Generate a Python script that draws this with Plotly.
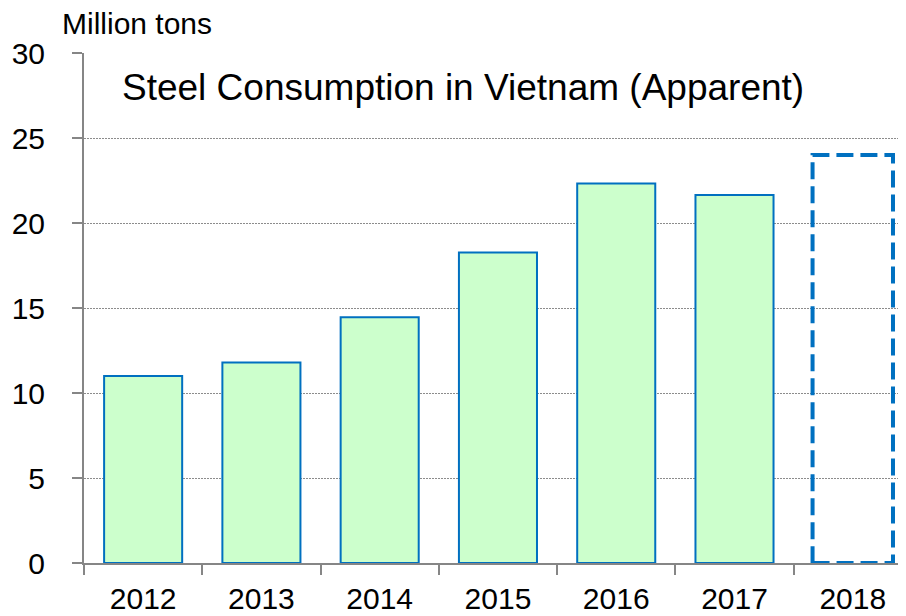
import plotly.graph_objects as go

years = ["2012", "2013", "2014", "2015", "2016", "2017", "2018"]
actual = [11.0, 11.8, 14.45, 18.27, 22.33, 21.65, None]
forecast_year = "2018"
forecast_value = 24.0
y_ticks = [0, 5, 10, 15, 20, 25, 30]

FONT = "Liberation Sans, Arial, sans-serif"
BLUE = "#0070C0"

# page body has an 8px margin; compensate so the plot lands where the reference has it
W, H = 898, 608
L, T, B = 76, 45, 53
PW, PH = W - L, H - T - B

fig = go.Figure()
fig.add_trace(go.Bar(
    x=years, y=actual, width=0.66,
    marker=dict(color="#CCFFCC", line=dict(color=BLUE, width=2)),
    showlegend=False, hoverinfo="x+y",
))

idx = years.index(forecast_year)
half = 0.34
fig.add_shape(type="rect", xref="x", yref="y",
              x0=idx - half, x1=idx + half, y0=0, y1=forecast_value,
              line=dict(color=BLUE, width=4, dash="17px,7px"),
              fillcolor="rgba(0,0,0,0)", layer="above")

fig.update_layout(
    width=W, height=H,
    margin=dict(l=L, r=0, t=T, b=B),
    paper_bgcolor="white", plot_bgcolor="white",
    font=dict(family=FONT, color="black", size=30),
    xaxis=dict(
        type="category", categoryarray=years,
        range=[-0.5, 6.45],
        showline=True, linecolor="#868686", linewidth=2,
        ticks="outside", ticklen=10, tickcolor="#868686", tickwidth=2,
        tickson="boundaries",
        showgrid=False, zeroline=False,
        tickfont=dict(size=30, family=FONT),
        ticklabelstandoff=8,
    ),
    yaxis=dict(
        range=[0, 30], tickvals=y_ticks,
        showline=True, linecolor="#868686", linewidth=2,
        ticks="outside", ticklen=10, tickcolor="#868686", tickwidth=2,
        showgrid=True, gridcolor="#8C8C8C", gridwidth=1, griddash="2px,1px",
        zeroline=False,
        tickfont=dict(size=30, family=FONT),
        ticklabelstandoff=21,
    ),
    annotations=[
        dict(text="Million tons", xref="paper", yref="paper",
             x=(60 - 84) / PW, y=1 + (53 - 24) / PH, xanchor="left", yanchor="middle",
             showarrow=False, font=dict(size=30, family=FONT)),
        dict(text="Steel Consumption in Vietnam (Apparent)", xref="paper", yref="paper",
             x=(120 - 84) / PW, y=1 - (88 - 53) / PH, xanchor="left", yanchor="middle",
             showarrow=False, font=dict(size=37, family=FONT)),
    ],
)

fig.write_html("out.html")
